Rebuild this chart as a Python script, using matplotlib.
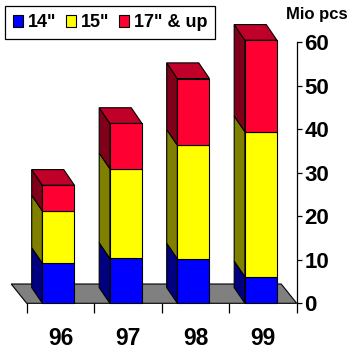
import matplotlib
matplotlib.use("Agg")
import matplotlib.pyplot as plt
from matplotlib.patches import Polygon, Patch
import numpy as np

plt.rcParams['font.family'] = ['Liberation Sans', 'DejaVu Sans']
plt.rcParams['font.weight'] = 'bold'

# Monitor shipments by screen size (million pieces)
years = ["96", "97", "98", "99"]
series_names = ['14"', '15"', '17" & up']
size_14 = [9.2, 10.3, 10.2, 6.1]
size_15 = [12.0, 20.6, 26.1, 33.3]
size_17 = [5.9, 10.4, 15.3, 21.0]
y_ticks = [0, 10, 20, 30, 40, 50, 60]

# face colours: front, side, top
front_cols = ["#0000FF", "#FFFF00", "#FF0033"]
side_cols = ["#000080", "#808000", "#80001A"]
top_cols = ["#0000C0", "#C0C000", "#C00028"]

W, H, DPI = 350, 352, 100
fig = plt.figure(figsize=(W / DPI, H / DPI), dpi=DPI)
ax = fig.add_axes([26.7 / W, (H - 303.3) / H, 270 / W, 261.3 / H])
ax.set_xlim(-0.5, 3.5)
ax.set_ylim(0, 60)

# oblique depth offsets, in pixels (left, up)
px_per_x = 270 / 4
px_per_y = 261.3 / 60
bar_dx, bar_dy = -10.7 / px_per_x, 15.7 / px_per_y
floor_dx, floor_dy = -15.5 / px_per_x, 19.3 / px_per_y

lw = 0.8
# grey floor
floor = Polygon([(-0.5, 0), (3.5, 0), (3.5 + floor_dx, floor_dy), (-0.5 + floor_dx, floor_dy)],
                closed=True, facecolor="#808080", edgecolor="black", lw=lw, clip_on=False, zorder=1)
ax.add_patch(floor)

bar_w = 0.475
shift = -0.03
stacks = [size_14, size_15, size_17]
for i in range(len(years)):
    x0 = i + shift - bar_w / 2
    x1 = x0 + bar_w
    base = 0.0
    for k, vals in enumerate(stacks):
        top = base + vals[i]
        front = Polygon([(x0, base), (x1, base), (x1, top), (x0, top)], closed=True,
                        facecolor=front_cols[k], edgecolor="black", lw=lw, clip_on=False, zorder=3)
        side = Polygon([(x0, base), (x0, top), (x0 + bar_dx, top + bar_dy), (x0 + bar_dx, base + bar_dy)],
                       closed=True, facecolor=side_cols[k], edgecolor="black", lw=lw, clip_on=False, zorder=2)
        ax.add_patch(side)
        ax.add_patch(front)
        if k == len(stacks) - 1:
            cap = Polygon([(x0, top), (x1, top), (x1 + bar_dx, top + bar_dy), (x0 + bar_dx, top + bar_dy)],
                          closed=True, facecolor=top_cols[k], edgecolor="black", lw=lw, clip_on=False, zorder=2)
            ax.add_patch(cap)
        base = top

# axes styling
for s in ["top", "left", "bottom"]:
    ax.spines[s].set_visible(False)
ax.spines["right"].set_linewidth(0.9)
ax.yaxis.tick_right()
ax.set_yticks(y_ticks)
ax.set_yticklabels([str(t) for t in y_ticks], fontsize=16, fontweight="bold")
ax.tick_params(axis="y", direction="out", length=3.5, width=0.9, pad=2)

ax.set_xticks(range(len(years)))
ax.set_xticklabels(years, fontsize=16.5, fontweight="bold")
ax.set_xticks(np.arange(-0.5, 4, 1.0), minor=True)
ax.tick_params(axis="x", which="major", length=0, pad=17)
ax.tick_params(axis="x", which="minor", direction="out", length=7, width=0.9)

ax.set_facecolor("none")

handles = [Patch(facecolor=c, edgecolor="black", lw=0.8) for c in front_cols]
leg = fig.legend(handles, series_names, loc="upper left", bbox_to_anchor=(4.7 / W, 1 - 6 / H),
                 ncol=3, frameon=True, fancybox=False, edgecolor="black", framealpha=1,
                 borderaxespad=0, prop={"weight": "bold", "size": 13},
                 handlelength=0.56, handleheight=0.62, handletextpad=0.25, columnspacing=0.55,
                 borderpad=0.45)
leg.get_frame().set_linewidth(0.9)

fig.text(348 / W, 1 - 15 / H, "Mio pcs", ha="right", va="center", fontsize=12, fontweight="bold")

fig.savefig("out.png", dpi=DPI)
